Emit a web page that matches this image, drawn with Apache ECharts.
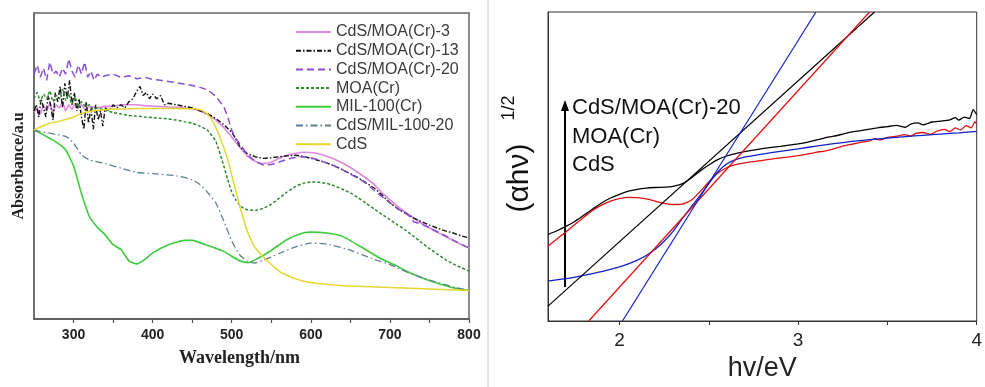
<!DOCTYPE html>
<html>
<head>
<meta charset="utf-8">
<script src="https://cdn.jsdelivr.net/npm/echarts@6/dist/echarts.min.js"></script>
<style>
html,body{margin:0;padding:0;background:#fff;}
#c{width:985px;height:387px;}
</style>
</head>
<body>
<div id="c"></div>
<script>
// ---------- Left panel: absorbance spectra [wavelength nm, absorbance a.u.] ----------
var wlTicks = [300, 350, 400, 450, 500, 550, 600, 650, 700, 750, 800];
var wlLabels = [300, 400, 500, 600, 700, 800];

var cdsMoa3 = [[250,0.675],[254,0.69],[258,0.67],[262,0.70],[266,0.68],[270,0.705],[274,0.675],[278,0.70],[282,0.69],[286,0.71],[290,0.68],[294,0.70],[298,0.685],[302,0.705],[306,0.69],[310,0.70],[315,0.685],[320,0.695],[330,0.69],[340,0.695],[350,0.695],[360,0.70],[370,0.70],[380,0.70],[390,0.697],[400,0.696],[420,0.693],[440,0.69],[450,0.687],[460,0.68],[470,0.668],[480,0.65],[490,0.625],[500,0.595],[510,0.562],[520,0.532],[530,0.515],[540,0.508],[550,0.512],[560,0.525],[570,0.535],[580,0.541],[590,0.545],[600,0.544],[610,0.54],[620,0.532],[630,0.522],[640,0.51],[650,0.495],[660,0.478],[670,0.46],[680,0.44],[690,0.412],[700,0.39],[710,0.368],[720,0.348],[730,0.33],[740,0.313],[750,0.298],[760,0.283],[770,0.27],[780,0.256],[790,0.243],[800,0.232]];

var cdsMoa13 = [[250,0.68],[253,0.70],[256,0.66],[259,0.72],[262,0.69],[265,0.66],[268,0.73],[271,0.70],[274,0.65],[277,0.74],[280,0.71],[283,0.76],[286,0.69],[289,0.77],[292,0.72],[295,0.78],[298,0.70],[301,0.74],[304,0.68],[307,0.72],[310,0.66],[313,0.62],[316,0.71],[319,0.64],[322,0.69],[325,0.62],[328,0.70],[331,0.65],[334,0.68],[337,0.63],[340,0.69],[345,0.68],[350,0.70],[355,0.69],[360,0.70],[365,0.69],[370,0.71],[375,0.72],[380,0.745],[384,0.76],[388,0.73],[392,0.74],[396,0.72],[400,0.735],[405,0.72],[410,0.73],[415,0.70],[420,0.705],[430,0.70],[440,0.695],[450,0.69],[460,0.68],[470,0.67],[480,0.655],[490,0.635],[500,0.61],[505,0.59],[510,0.565],[515,0.55],[520,0.54],[530,0.53],[540,0.525],[550,0.527],[560,0.53],[570,0.533],[580,0.535],[590,0.532],[600,0.525],[610,0.518],[620,0.51],[630,0.50],[640,0.488],[650,0.475],[660,0.461],[670,0.445],[680,0.428],[690,0.405],[700,0.38],[710,0.36],[720,0.345],[730,0.33],[740,0.318],[750,0.307],[760,0.297],[770,0.288],[780,0.281],[790,0.272],[800,0.265]];

var cdsMoa20 = [[250,0.80],[254,0.83],[258,0.79],[262,0.82],[266,0.78],[270,0.84],[274,0.80],[278,0.81],[282,0.79],[286,0.82],[290,0.80],[294,0.85],[298,0.81],[302,0.79],[306,0.83],[310,0.80],[314,0.84],[318,0.79],[322,0.81],[326,0.78],[330,0.80],[335,0.79],[340,0.795],[350,0.80],[360,0.79],[370,0.795],[380,0.785],[390,0.79],[400,0.783],[410,0.78],[420,0.776],[430,0.772],[440,0.768],[450,0.763],[460,0.757],[470,0.748],[480,0.727],[490,0.694],[495,0.66],[500,0.617],[505,0.59],[510,0.574],[520,0.536],[530,0.515],[540,0.503],[550,0.505],[560,0.513],[570,0.522],[580,0.528],[590,0.53],[600,0.527],[610,0.52],[620,0.51],[630,0.50],[640,0.488],[650,0.473],[660,0.46],[670,0.443],[680,0.42],[690,0.40],[700,0.38],[710,0.36],[720,0.345],[725,0.335],[730,0.318],[740,0.31],[750,0.298],[760,0.285],[770,0.272],[780,0.258],[790,0.245],[800,0.232]];

var moaCr = [[250,0.72],[254,0.74],[258,0.71],[262,0.735],[266,0.72],[270,0.745],[274,0.71],[278,0.73],[282,0.72],[286,0.75],[290,0.715],[294,0.735],[298,0.70],[302,0.725],[306,0.69],[310,0.71],[315,0.695],[320,0.70],[325,0.685],[330,0.69],[340,0.682],[350,0.675],[360,0.67],[370,0.665],[380,0.663],[390,0.66],[400,0.658],[410,0.656],[420,0.654],[430,0.65],[440,0.645],[450,0.64],[460,0.63],[470,0.615],[480,0.58],[490,0.50],[495,0.455],[500,0.415],[505,0.39],[510,0.372],[515,0.362],[520,0.357],[530,0.355],[540,0.362],[550,0.375],[560,0.395],[570,0.415],[580,0.432],[590,0.443],[600,0.448],[610,0.447],[620,0.443],[630,0.435],[640,0.424],[650,0.412],[660,0.396],[670,0.378],[680,0.36],[690,0.342],[700,0.325],[710,0.307],[720,0.29],[730,0.27],[740,0.25],[750,0.23],[760,0.212],[770,0.195],[780,0.18],[790,0.168],[800,0.157]];

var mil100 = [[250,0.617],[260,0.605],[270,0.59],[280,0.575],[290,0.553],[300,0.50],[310,0.41],[320,0.335],[330,0.30],[340,0.275],[350,0.243],[360,0.227],[370,0.19],[380,0.18],[390,0.194],[400,0.216],[420,0.243],[440,0.257],[450,0.257],[470,0.24],[490,0.221],[500,0.205],[510,0.19],[520,0.184],[530,0.194],[550,0.224],[570,0.26],[590,0.281],[600,0.284],[620,0.281],[640,0.27],[666,0.232],[690,0.195],[710,0.172],[721,0.156],[740,0.135],[760,0.117],[780,0.102],[800,0.093]];

var cdsMil20 = [[250,0.617],[280,0.602],[290,0.597],[300,0.575],[310,0.537],[320,0.52],[340,0.508],[360,0.493],[380,0.479],[400,0.475],[430,0.468],[450,0.455],[460,0.439],[470,0.412],[480,0.379],[490,0.32],[500,0.255],[510,0.21],[520,0.188],[530,0.183],[540,0.192],[560,0.214],[580,0.235],[600,0.248],[620,0.245],[650,0.225],[666,0.209],[680,0.195],[700,0.178],[721,0.154],[750,0.127],[780,0.105],[800,0.093]];

var cds = [[250,0.618],[260,0.63],[270,0.64],[280,0.645],[290,0.652],[300,0.66],[310,0.672],[320,0.678],[330,0.682],[340,0.684],[350,0.686],[370,0.687],[400,0.688],[430,0.688],[450,0.687],[460,0.684],[465,0.678],[470,0.668],[475,0.65],[480,0.625],[485,0.595],[490,0.56],[495,0.52],[500,0.47],[505,0.42],[510,0.37],[515,0.325],[520,0.285],[525,0.255],[530,0.232],[540,0.203],[550,0.178],[560,0.156],[570,0.143],[580,0.132],[590,0.124],[600,0.119],[625,0.112],[650,0.108],[700,0.103],[750,0.098],[800,0.093]];

// ---------- Right panel: Tauc plot [hv eV, (ahv)^1/2 a.u.] ----------
var evTicks = [2, 2.5, 3, 3.5, 4];
var evLabels = [2, 3, 4];

var taucCdsMoa20 = [[1.6,0.28],[1.65,0.292],[1.7,0.306],[1.75,0.322],[1.8,0.342],[1.85,0.362],[1.9,0.382],[1.95,0.398],[2.0,0.41],[2.05,0.42],[2.1,0.426],[2.15,0.43],[2.2,0.432],[2.25,0.433],[2.3,0.436],[2.35,0.444],[2.4,0.462],[2.45,0.485],[2.5,0.505],[2.55,0.522],[2.6,0.534],[2.65,0.542],[2.7,0.548],[2.8,0.558],[2.9,0.565],[3.0,0.573],[3.05,0.578],[3.1,0.585],[3.15,0.593],[3.2,0.598],[3.25,0.605],[3.3,0.612],[3.35,0.616],[3.4,0.621],[3.45,0.626],[3.5,0.629],[3.55,0.633],[3.6,0.627],[3.63,0.637],[3.67,0.641],[3.7,0.635],[3.75,0.644],[3.8,0.647],[3.85,0.651],[3.88,0.658],[3.9,0.65],[3.93,0.66],[3.96,0.655],[3.98,0.684],[4.0,0.668]];

var taucMoaCr = [[1.6,0.242],[1.65,0.265],[1.7,0.288],[1.75,0.312],[1.8,0.336],[1.85,0.358],[1.9,0.375],[1.95,0.388],[2.0,0.396],[2.05,0.4],[2.1,0.399],[2.15,0.395],[2.2,0.388],[2.25,0.381],[2.3,0.377],[2.35,0.378],[2.4,0.39],[2.45,0.418],[2.5,0.45],[2.55,0.478],[2.6,0.496],[2.65,0.506],[2.7,0.512],[2.8,0.52],[2.9,0.528],[3.0,0.535],[3.05,0.54],[3.1,0.546],[3.15,0.55],[3.2,0.557],[3.25,0.566],[3.3,0.572],[3.35,0.578],[3.4,0.583],[3.43,0.59],[3.46,0.586],[3.5,0.594],[3.55,0.598],[3.6,0.603],[3.63,0.598],[3.66,0.607],[3.7,0.61],[3.74,0.604],[3.78,0.615],[3.82,0.62],[3.85,0.613],[3.88,0.625],[3.91,0.618],[3.94,0.632],[3.97,0.625],[3.99,0.645],[4.0,0.638]];

var taucCds = [[1.6,0.129],[1.7,0.137],[1.8,0.148],[1.9,0.16],[2.0,0.175],[2.05,0.185],[2.1,0.197],[2.15,0.212],[2.2,0.232],[2.25,0.258],[2.3,0.29],[2.35,0.33],[2.4,0.368],[2.45,0.405],[2.5,0.445],[2.55,0.482],[2.6,0.508],[2.65,0.522],[2.7,0.53],[2.8,0.54],[2.9,0.549],[3.0,0.557],[3.1,0.566],[3.2,0.574],[3.3,0.581],[3.4,0.587],[3.5,0.592],[3.6,0.597],[3.7,0.601],[3.8,0.605],[3.9,0.609],[4.0,0.614]];

var fitCdsMoa20 = [[1.6,0.048],[3.428,1.0]];
var fitMoaCr = [[1.828,0.0],[3.40,1.0]];
var fitCds = [[2.017,0.0],[3.10,1.0]];

var annotLabels = ['CdS/MOA(Cr)-20', 'MOA(Cr)', 'CdS'];

// ---------- chart ----------
var chart = echarts.init(document.getElementById('c'));
var sans = 'Liberation Sans, Arial, sans-serif';
var serif = 'Liberation Serif, Times New Roman, serif';

function lineS(name, data, color, type, width, xi, smooth) {
  return {
    name: name, type: 'line', data: data, xAxisIndex: xi, yAxisIndex: xi,
    symbol: 'none', showSymbol: false, smooth: smooth || false, animation: false,
    lineStyle: {color: color, width: width, type: type},
    itemStyle: {color: color}
  };
}

var option = {
  backgroundColor: '#fff',
  animation: false,
  grid: [
    {left: 34, right: 516, top: 13, bottom: 68, show: true, borderColor: '#666', borderWidth: 1.5, backgroundColor: 'transparent'},
    {left: 548, right: 6, top: 12, bottom: 65, show: true, borderColor: '#333', borderWidth: 1, backgroundColor: 'transparent'}
  ],
  legend: {
    left: 290, top: 19, orient: 'vertical', itemWidth: 35, itemHeight: 14, itemGap: 2.7,
    itemStyle: {opacity: 0},
    textStyle: {fontFamily: sans, fontSize: 16, lineHeight: 16, color: '#3a3a3a'},
    data: ['CdS/MOA(Cr)-3', 'CdS/MOA(Cr)-13', 'CdS/MOA(Cr)-20', 'MOA(Cr)', 'MIL-100(Cr)', 'CdS/MIL-100-20', 'CdS']
  },
  xAxis: [
    {
      gridIndex: 0, type: 'value', min: 250, max: 800,
      axisLine: {lineStyle: {color: '#555', width: 1.5}},
      axisTick: {customValues: wlTicks, length: 4, lineStyle: {color: '#555', width: 1.2}},
      axisLabel: {customValues: wlLabels, margin: 9, fontFamily: sans, fontWeight: 'bold', fontSize: 14, color: '#222'},
      splitLine: {show: false},
      name: 'Wavelength/nm', nameLocation: 'middle', nameGap: 30,
      nameTextStyle: {fontFamily: serif, fontWeight: 'bold', fontSize: 18, color: '#222', padding: [0, 24, 0, 0]}
    },
    {
      gridIndex: 1, type: 'value', min: 1.6, max: 4,
      axisLine: {lineStyle: {color: '#333', width: 1}},
      axisTick: {customValues: evTicks, length: 4, lineStyle: {color: '#333', width: 1}},
      axisLabel: {customValues: evLabels, margin: 10, fontFamily: sans, fontSize: 19, color: '#222'},
      splitLine: {show: false},
      name: 'hv/eV', nameLocation: 'middle', nameGap: 34,
      nameTextStyle: {fontFamily: sans, fontSize: 27, color: '#222'}
    }
  ],
  yAxis: [
    {
      gridIndex: 0, type: 'value', min: 0, max: 1,
      axisLine: {show: true, lineStyle: {color: '#666', width: 1.5}},
      axisTick: {show: false}, axisLabel: {show: false}, splitLine: {show: false},
      name: 'Absorbance/a.u', nameLocation: 'middle', nameGap: 7, nameRotate: 90,
      nameTextStyle: {fontFamily: serif, fontWeight: 'bold', fontSize: 16, color: '#222'}
    },
    {
      gridIndex: 1, type: 'value', min: 0, max: 1,
      axisLine: {show: true, lineStyle: {color: '#333', width: 1}},
      axisTick: {show: false}, axisLabel: {show: false}, splitLine: {show: false}
    }
  ],
  series: [
    lineS('CdS/MOA(Cr)-3', cdsMoa3, '#e088e0', 'solid', 1.6, 0, 0.15),
    lineS('CdS/MOA(Cr)-13', cdsMoa13, '#111111', [5, 2, 1.5, 2], 1.4, 0, false),
    lineS('CdS/MOA(Cr)-20', cdsMoa20, '#8a50d4', [7, 4], 1.5, 0, false),
    lineS('MOA(Cr)', moaCr, '#2e8a2e', [3, 2], 1.5, 0, 0.15),
    lineS('MIL-100(Cr)', mil100, '#3ccc3c', 'solid', 1.6, 0, 0.15),
    lineS('CdS/MIL-100-20', cdsMil20, '#5f8090', [7, 3, 1.5, 3], 1.3, 0, 0.15),
    lineS('CdS', cds, '#e6d630', 'solid', 1.5, 0, 0.15),
    lineS('tauc-CdS/MOA(Cr)-20', taucCdsMoa20, '#000000', 'solid', 1.3, 1, 0.15),
    lineS('tauc-MOA(Cr)', taucMoaCr, '#e01010', 'solid', 1.3, 1, 0.15),
    lineS('tauc-CdS', taucCds, '#1020c8', 'solid', 1.3, 1, 0.15),
    lineS('fit-CdS/MOA(Cr)-20', fitCdsMoa20, '#000000', 'solid', 1.2, 1, false),
    lineS('fit-MOA(Cr)', fitMoaCr, '#e01010', 'solid', 1.2, 1, false),
    lineS('fit-CdS', fitCds, '#1020c8', 'solid', 1.2, 1, false)
  ],
  graphic: [
    {type: 'line', shape: {x1: 488, y1: 0, x2: 488, y2: 387}, style: {stroke: '#c8c8c8', lineWidth: 1}},
    {type: 'text', x: 520, y: 178, rotation: Math.PI / 2,
     style: {text: '(αhν)', font: '30px ' + sans, fill: '#111', align: 'center', verticalAlign: 'middle'}},
    {type: 'text', x: 509, y: 108, rotation: Math.PI / 2,
     style: {text: '1/2', font: '18px ' + sans, fill: '#111', align: 'center', verticalAlign: 'middle'}},
    {type: 'line', shape: {x1: 565, y1: 287, x2: 565, y2: 108}, style: {stroke: '#000', lineWidth: 2}},
    {type: 'polygon', shape: {points: [[561, 111], [569, 111], [565, 100]]}, style: {fill: '#000'}},
    {type: 'text', x: 572, y: 108, style: {text: annotLabels[0], font: '22px ' + sans, fill: '#111', verticalAlign: 'middle'}},
    {type: 'text', x: 572, y: 137, style: {text: annotLabels[1], font: '22px ' + sans, fill: '#111', verticalAlign: 'middle'}},
    {type: 'text', x: 572, y: 165, style: {text: annotLabels[2], font: '22px ' + sans, fill: '#111', verticalAlign: 'middle'}}
  ]
};
chart.setOption(option);
</script>
</body>
</html>
